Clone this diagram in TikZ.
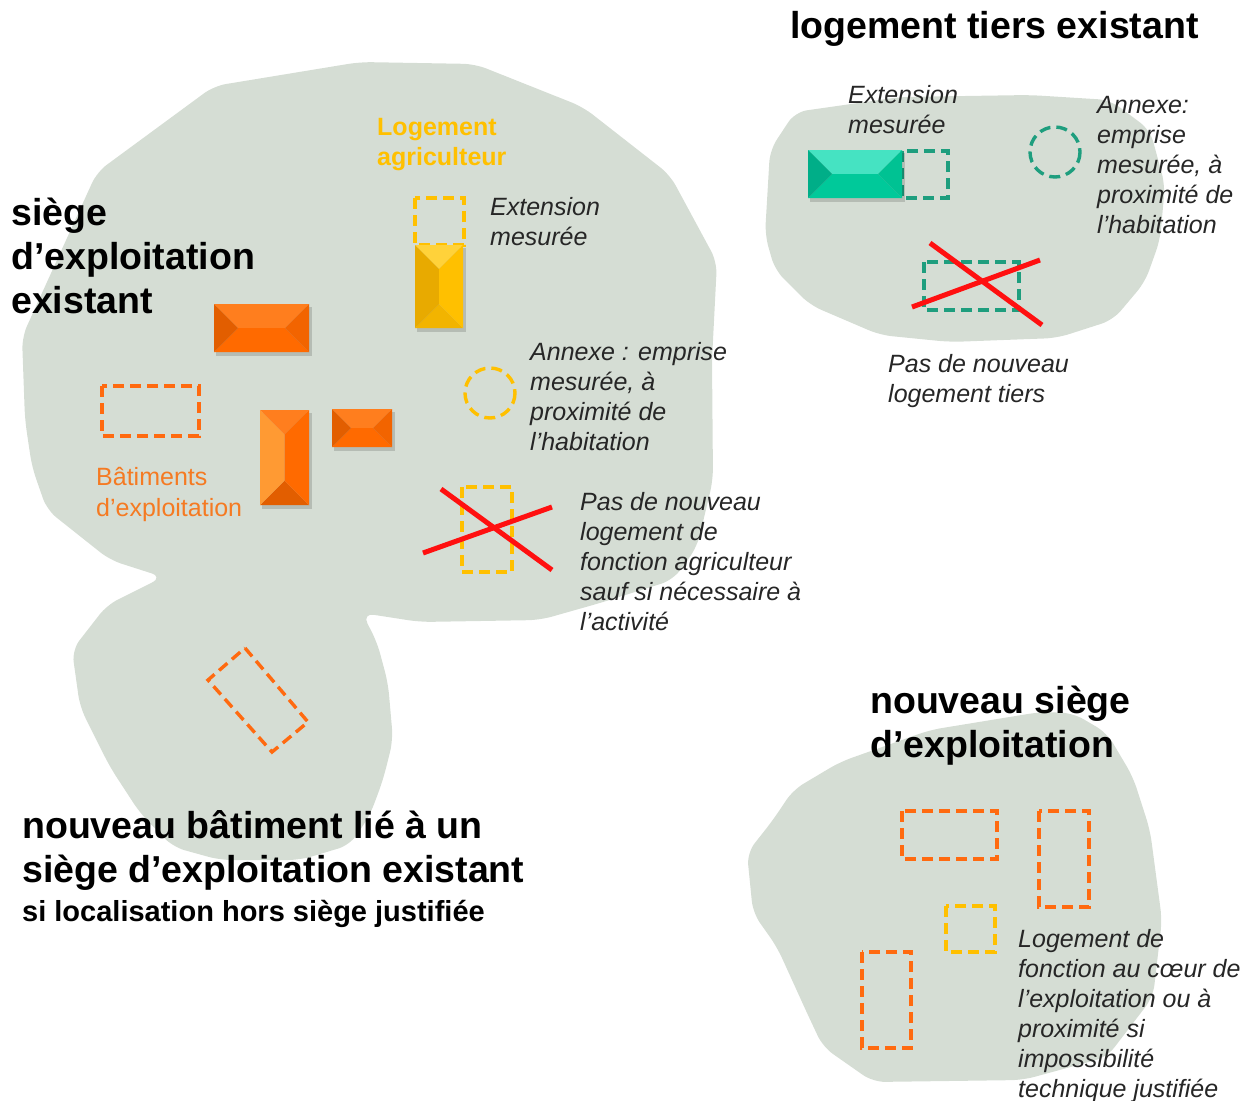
\documentclass[tikz,border=0pt]{standalone}
\usepackage{fontspec}
\setmainfont{Liberation Sans}
\definecolor{blobc}{HTML}{D5DDD4}
\definecolor{orng}{HTML}{FF6A10}
\definecolor{orngtxt}{HTML}{F57A22}
\definecolor{yell}{HTML}{FFC000}
\definecolor{tealdash}{HTML}{1E9E7E}
\definecolor{txtc}{HTML}{262626}
\definecolor{redx}{HTML}{FF1010}
\definecolor{oA}{HTML}{FF7E1E}\definecolor{oB}{HTML}{FF6A00}\definecolor{oC}{HTML}{E25E00}\definecolor{oD}{HTML}{F26400}
\definecolor{oL}{HTML}{FF9A33}
\definecolor{yA}{HTML}{FFD23A}\definecolor{yB}{HTML}{F2B400}\definecolor{yC}{HTML}{E8AA00}
\definecolor{tA}{HTML}{45E3C2}\definecolor{tB}{HTML}{00C99A}\definecolor{tC}{HTML}{00AE88}\definecolor{tD}{HTML}{00C293}
\newcommand{\stack}[1]{\begin{tabular}[t]{@{}l@{}}#1\end{tabular}}
\newcommand{\bevelbox}[8]{%
  \pgfmathsetmacro{\bvB}{min(#3-#1,#4-#2)/2}%
  \pgfmathsetmacro{\bvXa}{#1+\bvB}\pgfmathsetmacro{\bvXb}{#3-\bvB}%
  \pgfmathsetmacro{\bvYa}{#2+\bvB}\pgfmathsetmacro{\bvYb}{#4-\bvB}%
  \fill[black, opacity=0.15] (#1+2,#2+3) rectangle (#3+3,#4+4);
  \fill[#5] (#1,#2) -- (#3,#2) -- (\bvXb,\bvYa) -- (\bvXa,\bvYa) -- cycle;
  \fill[#6] (#1,#4) -- (#3,#4) -- (\bvXb,\bvYb) -- (\bvXa,\bvYb) -- cycle;
  \fill[#7] (#1,#2) -- (\bvXa,\bvYa) -- (\bvXa,\bvYb) -- (#1,#4) -- cycle;
  \fill[#8] (#3,#2) -- (\bvXb,\bvYa) -- (\bvXb,\bvYb) -- (#3,#4) -- cycle;
}
\begin{document}
\begin{tikzpicture}[x=1pt,y=-1pt,
  blob/.style={fill=blobc, rounded corners=12pt},
  dashbase/.style={line width=3.4pt, dash pattern=on 11pt off 6pt},
  odash/.style={dashbase, draw=orng},
  ydash/.style={dashbase, draw=yell},
  tdash/.style={dashbase, draw=tealdash},
  cross/.style={draw=redx, line width=5pt},
  head/.style={inner sep=0pt, anchor=base west, text=black, font=\fontsize{37.5}{44}\selectfont\bfseries},
  note/.style={inner sep=0pt, anchor=base west, text=txtc, font=\fontsize{25}{30}\selectfont\itshape},
]
\useasboundingbox (0,0) rectangle (1243,1101);

% blobs
\path[blob] (360,62) -- (475,64) -- (583,107) -- (670,175) -- (717,262) -- (712,360)
  -- (713,480) -- (697,547) -- (673,580) -- (600,603) -- (540,620) -- (420,622)
  -- (362,613) -- (377,642) -- (388,683) -- (393,740) -- (383,780) -- (370,815)
  -- (350,845) -- (300,860) -- (220,860) -- (173,847) -- (140,813) -- (110,767)
  -- (80,707) -- (72,650) -- (107,605) -- (147,585) -- (163,577) -- (110,560)
  -- (47,510) -- (32,467) -- (25,420) -- (22,337) -- (97,172) -- (214,86) -- cycle;
\path[blob] (795,112) -- (900,97) -- (1030,95) -- (1110,100) -- (1150,130) -- (1165,185)
  -- (1160,240) -- (1145,282) -- (1113,320) -- (1057,338) -- (950,342) -- (880,335)
  -- (810,305) -- (775,270) -- (765,235) -- (770,150) -- cycle;
\path[blob] (793,790) -- (840,762) -- (930,730) -- (1040,712) -- (1073,713) -- (1107,733)
  -- (1133,777) -- (1150,830) -- (1162,920) -- (1153,997) -- (1107,1057) -- (1023,1080)
  -- (873,1082) -- (823,1047) -- (807,1013) -- (777,947) -- (753,913) -- (747,853)
  -- (773,820) -- cycle;

% siege existant: buildings
\bevelbox{214}{304}{309}{352}{oA}{oB}{oC}{oD}
\bevelbox{260}{410}{309}{505}{oA}{oC}{oL}{oB}
\bevelbox{332}{409}{392}{447}{oA}{oB}{oC}{oD}
\draw[odash] (102,386) rectangle (199,436);
% logement agriculteur
\draw[ydash] (415,198) rectangle (464,245);
\bevelbox{415}{245}{463}{328}{yA}{yB}{yC}{yell}
\draw[ydash] (490,393) circle (25);
\draw[ydash] (462,487) rectangle (512,572);
\draw[cross] (441,489) -- (552,570);
\draw[cross] (423,553) -- (552,507);
% nouveau batiment
\draw[odash] (245,648) -- (308,722) -- (272,752) -- (208,680) -- cycle;

% logement tiers
\draw[tdash] (902,151) rectangle (948,198);
\bevelbox{808}{150}{902}{198}{tA}{tB}{tC}{tD}
\draw[tdash] (1055,152) circle (25);
\draw[tdash] (924,262) rectangle (1019,310);
\draw[cross] (930,243) -- (1042,325);
\draw[cross] (912,307) -- (1040,260);

% nouveau siege
\draw[odash] (902,811) rectangle (997,859);
\draw[odash] (1039,811) rectangle (1089,907);
\draw[ydash] (946,906) rectangle (995,952);
\draw[odash] (862,952) rectangle (911,1048);

% texts
\node[head] (t1) at (790,38) {logement tiers existant};
\node[head] (t2) at (11,225) {\stack{siège\\d’exploitation\\existant}};
\node[head] (t3) at (870,713) {\stack{nouveau siège\\d’exploitation}};
\node[head] (t4) at (22,838) {\stack{nouveau bâtiment lié à un\\siège d’exploitation existant}};
\node[inner sep=0pt, anchor=base west, font=\fontsize{29}{34}\selectfont\bfseries] (t5) at (22,921) {si localisation hors siège justifiée};
\node[inner sep=0pt, anchor=base west, text=yell, font=\fontsize{25}{30}\selectfont\bfseries] (t6) at (377,135) {\stack{Logement\\agriculteur}};
\node[inner sep=0pt, anchor=base west, text=orngtxt, font=\fontsize{25}{31}\selectfont] (t7) at (96,485) {\stack{Bâtiments\\d’exploitation}};
\node[note] (n1) at (490,215) {\stack{Extension\\mesurée}};
\node[note] (n2) at (530,360) {\stack{Annexe : emprise\\mesurée, à\\proximité de\\l’habitation}};
\node[note] (n3) at (580,510) {\stack{Pas de nouveau\\logement de\\fonction agriculteur\\sauf si nécessaire à\\l’activité}};
\node[note] (n4) at (848,103) {\stack{Extension\\mesurée}};
\node[note] (n5) at (1097,113) {\stack{Annexe:\\emprise\\mesurée, à\\proximité de\\l’habitation}};
\node[note] (n6) at (888,372) {\stack{Pas de nouveau\\logement tiers}};
\node[note] (n7) at (1018,947) {\stack{Logement de\\fonction au cœur de\\l’exploitation ou à\\proximité si\\impossibilité\\technique justifiée}};
\end{tikzpicture}
\end{document}
